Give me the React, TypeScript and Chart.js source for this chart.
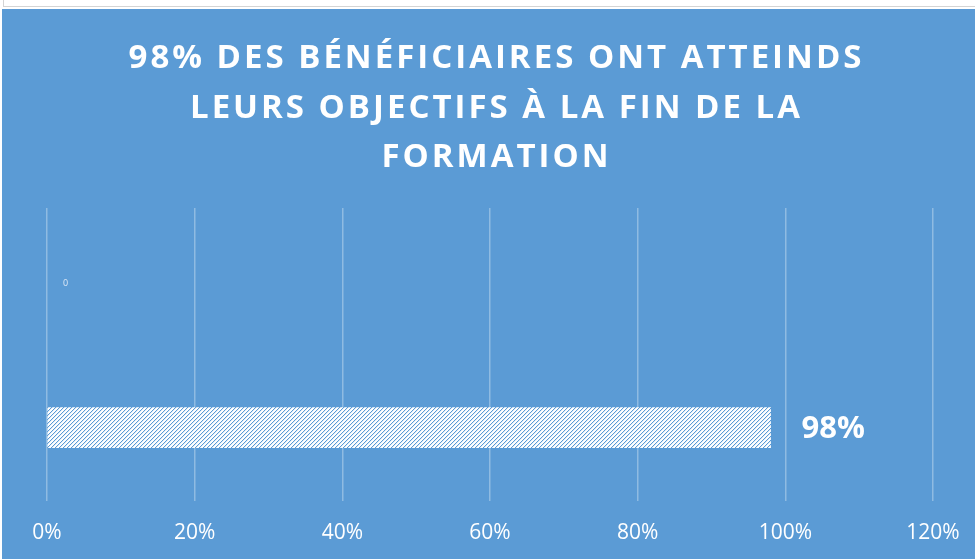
import React, { useEffect, useRef } from "react";
import { Chart, registerables } from "chart.js";

Chart.register(...registerables);

const titleLines = [
  "98% DES BÉNÉFICIAIRES ONT ATTEINDS",
  "LEURS OBJECTIFS À LA FIN DE LA",
  "FORMATION",
];
const categories = ["", ""];
const values = [0, 98];
const dataLabels = ["0", "98%"];
const xMin = 0;
const xMax = 120;
const xStep = 20;

const BLUE = "#5B9BD5";

function makePattern(): CanvasPattern | string {
  const c = document.createElement("canvas");
  c.width = 4;
  c.height = 4;
  const g = c.getContext("2d");
  if (!g) return "#ffffff";
  g.fillStyle = "#ffffff";
  g.fillRect(0, 0, 4, 4);
  for (let i = 0; i < 4; i++) {
    g.fillStyle = BLUE;
    g.fillRect(i, 3 - i, 1, 1);
    g.fillStyle = "#e2edf8";
    g.fillRect(i, (4 - i) % 4, 1, 1);
  }
  const p = g.createPattern(c, "repeat");
  return p || "#ffffff";
}

const titlePlugin = {
  id: "customTitle",
  afterDraw(chart: any) {
    const ctx = chart.ctx as CanvasRenderingContext2D;
    ctx.save();
    ctx.fillStyle = "#ffffff";
    ctx.font = "bold 33px 'Open Sans'";
    (ctx as any).letterSpacing = "3px";
    ctx.textAlign = "center";
    ctx.textBaseline = "middle";
    const cx = chart.width / 2 + 8;
    const y0 = 50;
    const lh = 49.5;
    titleLines.forEach((t, i) => {
      ctx.fillText(t, cx, y0 + i * lh);
    });
    ctx.restore();
  },
};

const labelStyles = [
  { font: "9px 'Open Sans'", color: "#dfe9f6", offset: 16 },
  { font: "bold 31px 'Open Sans'", color: "#ffffff", offset: 31 },
];

const dataLabelPlugin = {
  id: "dataLabels",
  afterDatasetsDraw(chart: any) {
    const ctx = chart.ctx as CanvasRenderingContext2D;
    const meta = chart.getDatasetMeta(0);
    meta.data.forEach((el: any, i: number) => {
      const st = labelStyles[i];
      ctx.save();
      ctx.font = st.font;
      ctx.fillStyle = st.color;
      ctx.textAlign = "left";
      ctx.textBaseline = "middle";
      ctx.fillText(dataLabels[i], el.x + st.offset, el.y + 2);
      ctx.restore();
    });
  },
};

export default function App() {
  const ref = useRef<HTMLCanvasElement>(null);

  useEffect(() => {
    document.body.style.margin = "0";
    if (!ref.current) return;
    const pattern = makePattern();
    const chart = new Chart(ref.current, {
      type: "bar",
      data: {
        labels: categories,
        datasets: [
          {
            data: values,
            backgroundColor: values.map((v) => (v === 0 ? "rgba(0,0,0,0)" : pattern)) as any,
            borderWidth: 0,
            barThickness: 40,
          },
        ],
      },
      options: {
        indexAxis: "y",
        animation: false,
        responsive: false,
        maintainAspectRatio: false,
        layout: { padding: { left: 45, right: 42, top: 199, bottom: 16 } },
        plugins: {
          legend: { display: false },
          title: { display: false },
          tooltip: { enabled: false },
        },
        scales: {
          x: {
            min: xMin,
            max: xMax,
            ticks: {
              stepSize: xStep,
              color: "#ffffff",
              font: { family: "'Open Sans'", size: 21 },
              padding: 0,
              callback: (v: any) => v + "%",
            },
            grid: {
              color: "rgba(255,255,255,0.32)",
              lineWidth: 1.5,
              drawTicks: true,
              tickLength: 20,
              tickColor: "rgba(0,0,0,0)",
            },
            border: { display: false },
          },
          y: { display: false },
        },
      },
      plugins: [titlePlugin, dataLabelPlugin],
    });
    return () => chart.destroy();
  }, []);

  return (
    <div style={{ position: "relative", width: 975, height: 559, background: "#ffffff", overflow: "hidden" }}>
      <div
        style={{
          position: "absolute",
          left: 3,
          top: -10,
          width: 990,
          height: 15,
          border: "1px solid #d4d4d4",
        }}
      />
      <div style={{ position: "absolute", left: 2, top: 9, width: 973, height: 550, background: BLUE, overflow: "hidden" }}>
        <canvas ref={ref} width={973} height={553} style={{ display: "block" }} />
      </div>
    </div>
  );
}
